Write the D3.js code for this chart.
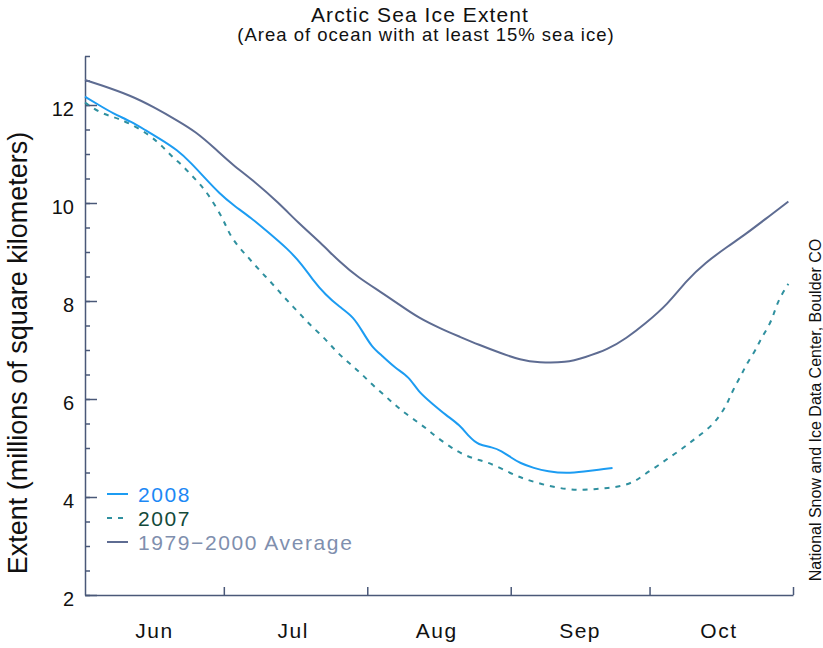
<!DOCTYPE html>
<html>
<head>
<meta charset="utf-8">
<script src="https://cdn.jsdelivr.net/npm/d3@7"></script>
<style>
  body { margin: 0; background: #fff; }
  svg { display: block; font-family: 'Liberation Sans', Arial, Helvetica, sans-serif; }
  .axis path, .axis line { stroke: #4a5878; stroke-width: 1.5px; }
  .axis text { fill: #111; }
</style>
</head>
<body>
<div id="chart"></div>
<script>
// days are counted from June 1
const avgDay = [0, 3, 10, 15, 20, 24, 28, 32, 36, 42, 46, 51, 55, 59, 64, 68, 72, 77, 81, 85, 90,
  94, 98, 104, 108, 113, 117, 121, 126, 130, 134, 139, 143, 147, 152];
const avgValue = [12.51, 12.42, 12.19, 11.95, 11.68, 11.45, 11.12, 10.77, 10.49, 9.99, 9.6, 9.18,
  8.8, 8.48, 8.18, 7.92, 7.66, 7.43, 7.27, 7.11, 6.93, 6.8, 6.74, 6.74, 6.85, 7.01, 7.24, 7.53,
  7.94, 8.42, 8.78, 9.12, 9.38, 9.67, 10.03];

const day2008 = [0, 3, 6, 10, 13, 16, 20, 23, 26, 29, 32, 36, 39, 44, 47, 49, 52, 55, 58, 60, 62,
  64, 67, 70, 72, 75, 78, 81, 83, 85, 88, 90, 92, 94, 97, 100, 104, 108, 111, 114];
const value2008 = [12.17, 12.0, 11.83, 11.66, 11.49, 11.32, 11.08, 10.81, 10.5, 10.2, 9.96, 9.69,
  9.45, 9.05, 8.73, 8.46, 8.12, 7.88, 7.68, 7.37, 7.06, 6.9, 6.63, 6.46, 6.15, 5.91, 5.67, 5.47,
  5.23, 5.06, 5.02, 4.94, 4.81, 4.69, 4.59, 4.52, 4.48, 4.52, 4.56, 4.59];

const day2007 = [0, 3, 6, 9, 14, 17, 19, 21, 23, 25, 27, 30, 31, 33, 35, 37, 39, 41, 43, 45, 47,
  49, 52, 54, 56, 58, 60, 62, 65, 67, 69, 72, 74, 76, 79, 81, 84, 87, 90, 93, 95, 98, 101, 104,
  107, 110, 113, 116, 119, 121, 124, 126, 129, 131, 133, 136, 138, 139, 140, 142, 143, 145, 146,
  148, 149, 150, 152];
const value2007 = [12.05, 11.85, 11.76, 11.66, 11.39, 11.13, 10.93, 10.77, 10.57, 10.37, 10.13,
  9.65, 9.4, 9.12, 8.92, 8.7, 8.5, 8.3, 8.08, 7.88, 7.68, 7.48, 7.22, 7.0, 6.82, 6.66, 6.49, 6.3,
  6.05, 5.88, 5.72, 5.52, 5.38, 5.22, 5.02, 4.9, 4.78, 4.71, 4.58, 4.44, 4.37, 4.28, 4.21, 4.16,
  4.14, 4.16, 4.18, 4.22, 4.32, 4.47, 4.65, 4.79, 4.98, 5.13, 5.27, 5.5, 5.78, 5.95, 6.18, 6.52,
  6.72, 7.01, 7.22, 7.52, 7.78, 8.05, 8.35];

const yMajorTicks = [2, 4, 6, 8, 10, 12];
const monthLabels = ['Jun', 'Jul', 'Aug', 'Sep', 'Oct'];

const width = 823;
const height = 648;
const margin = { top: 56, right: 30, bottom: 53, left: 85 };

const start = new Date(2008, 5, 1);
const end = new Date(2008, 10, 1);
const toDate = d => d3.timeDay.offset(start, d);

const svg = d3.select('#chart')
  .append('svg')
  .attr('width', width)
  .attr('height', height);

const x = d3.scaleTime()
  .domain([start, end])
  .range([margin.left, width - margin.right]);

const y = d3.scaleLinear()
  .domain([2, 13])
  .range([height - margin.bottom, margin.top]);

// y axis: minor ticks every 0.5, major ticks with labels
svg.append('g')
  .attr('class', 'axis')
  .attr('transform', `translate(${margin.left},0)`)
  .call(d3.axisLeft(y).tickValues(d3.range(2, 13.01, 0.5)).tickSize(-5).tickFormat(''))
  .call(g => g.select('.domain').remove());

svg.append('g')
  .attr('class', 'axis')
  .attr('transform', `translate(${margin.left},0)`)
  .call(d3.axisLeft(y).tickValues(yMajorTicks).tickSize(-12).tickPadding(11).tickSizeOuter(0))
  .call(g => g.selectAll('text')
    .attr('font-size', 20)
    .attr('dy', '0.5em'));

// x axis: month boundaries and labels at mid month
const monthStarts = d3.timeMonth.range(d3.timeMonth.offset(start, 1), d3.timeDay.offset(end, 1));
svg.append('g')
  .attr('class', 'axis')
  .attr('transform', `translate(0,${height - margin.bottom})`)
  .call(d3.axisBottom(x).tickValues(monthStarts).tickSize(-8).tickSizeOuter(0).tickFormat(''));

const monthMids = monthLabels.map((m, i) => d3.timeDay.offset(d3.timeMonth.offset(start, i), 15));
svg.append('g')
  .selectAll('text')
  .data(monthMids)
  .join('text')
  .attr('x', d => x(d))
  .attr('y', 638)
  .attr('text-anchor', 'middle')
  .attr('font-size', 21)
  .attr('letter-spacing', 1.5)
  .attr('fill', '#111')
  .text((d, i) => monthLabels[i]);

// lines
const line = d3.line()
  .x(d => x(toDate(d[0])))
  .y(d => y(d[1]))
  .curve(d3.curveBasis);

const series = [
  { name: '1979\u22122000 Average', days: avgDay, values: avgValue, color: '#5e6c92', text: '#7f8fae', dash: null },
  { name: '2007', days: day2007, values: value2007, color: '#2f909f', text: '#134a3b', dash: '5,6' },
  { name: '2008', days: day2008, values: value2008, color: '#1c9cf2', text: '#1c88f5', dash: null },
];

svg.append('g')
  .selectAll('path')
  .data(series)
  .join('path')
  .attr('d', s => line(s.days.map((d, i) => [d, s.values[i]])))
  .attr('fill', 'none')
  .attr('stroke', s => s.color)
  .attr('stroke-width', 2)
  .attr('stroke-dasharray', s => s.dash);

// legend
const legend = svg.append('g')
  .selectAll('g')
  .data(series.slice().reverse())
  .join('g')
  .attr('transform', (d, i) => `translate(107,${494 + i * 24})`);

legend.append('line')
  .attr('x1', 0)
  .attr('x2', 21)
  .attr('stroke', d => d.color)
  .attr('stroke-width', 2)
  .attr('stroke-dasharray', d => d.dash);

legend.append('text')
  .attr('x', 31)
  .attr('y', 8)
  .attr('font-size', 21)
  .attr('letter-spacing', 1.6)
  .attr('fill', d => d.text)
  .text(d => d.name);

// titles
svg.append('text')
  .attr('x', 420)
  .attr('y', 22)
  .attr('text-anchor', 'middle')
  .attr('font-size', 21)
  .attr('letter-spacing', 1.1)
  .attr('fill', '#111')
  .text('Arctic Sea Ice Extent');

svg.append('text')
  .attr('x', 426)
  .attr('y', 41)
  .attr('text-anchor', 'middle')
  .attr('font-size', 18.5)
  .attr('letter-spacing', 1)
  .attr('fill', '#111')
  .text('(Area of ocean with at least 15% sea ice)');

svg.append('text')
  .attr('transform', 'translate(27,353) rotate(-90)')
  .attr('text-anchor', 'middle')
  .attr('font-size', 27)
  .attr('fill', '#111')
  .text('Extent (millions of square kilometers)');

svg.append('text')
  .attr('transform', 'translate(821,410) rotate(-90)')
  .attr('text-anchor', 'middle')
  .attr('font-size', 16)
  .attr('fill', '#111')
  .text('National Snow and Ice Data Center, Boulder CO');
</script>
</body>
</html>
